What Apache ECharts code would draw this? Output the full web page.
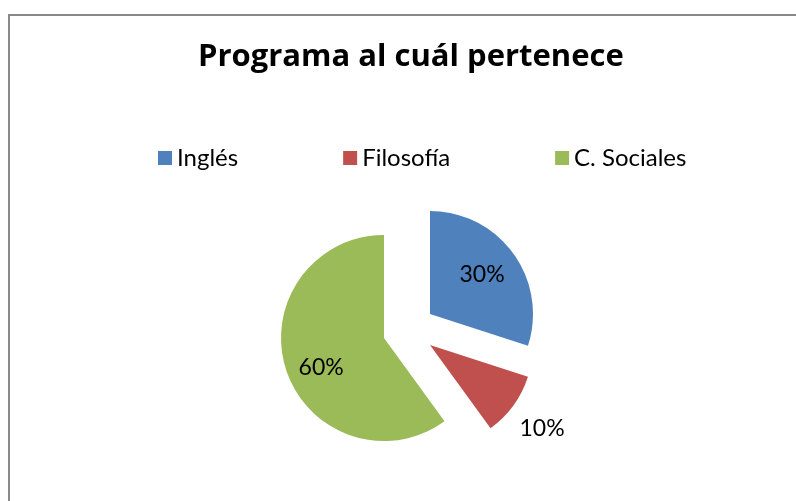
<!DOCTYPE html>
<html>
<head>
<meta charset="utf-8">
<title>Programa al cuál pertenece</title>
<script src="https://cdn.jsdelivr.net/npm/echarts@6/dist/echarts.min.js"></script>
<style>
	html, body { margin: 0; padding: 0; background: #fff; }
	#chart-programa { width: 796px; height: 501px; }
</style>
</head>
<body>
<div id="chart-programa"></div>
<script type="text/javascript">
	var programas = ['Inglés', 'Filosofía', 'C. Sociales'];
	var porcentajes = [30, 10, 60];
	var colores = ['#4F81BD', '#C0504D', '#9BBB59'];

	// every slice is pulled out by its own amount, so one pie per slice
	var centros = [[430, 314], [430, 345], [384, 338]];
	var ajustes = [[8, -7], [68, 52], [-11, 13]];

	var fuente = 'Lato, "Liberation Sans", sans-serif';

	function cada(arr, fn) { for (var i = 0; i < arr.length; i++) fn(i, arr[i]); }

	var series = [];
	cada(programas, function (k) {
		var data = [];
		cada(programas, function (i, nombre) {
			data.push({
				name: nombre,
				value: porcentajes[i],
				itemStyle: { color: i === k ? colores[i] : 'rgba(0,0,0,0)' },
				label: { show: i === k }
			});
		});
		series.push({
			type: 'pie',
			center: centros[k],
			radius: [0, 103],
			startAngle: 90,
			clockwise: true,
			avoidLabelOverlap: false,
			silent: true,
			label: {
				position: 'inside',
				formatter: '{d}%',
				color: '#000',
				fontFamily: fuente,
				fontSize: 23
			},
			labelLine: { show: false },
			labelLayout: function () {
				return { dx: ajustes[k][0], dy: ajustes[k][1] };
			},
			data: data
		});
	});

	var legendData = [];
	cada(programas, function (i, nombre) {
		legendData.push({ name: nombre, itemStyle: { color: colores[i], opacity: 1 } });
	});

	var option = {
		animation: false,
		backgroundColor: '#fff',
		title: {
			text: 'Programa al cuál pertenece',
			left: 198,
			top: 42,
			padding: 0,
			textStyle: {
				fontFamily: '"Open Sans", Lato, sans-serif',
				fontWeight: 'bold',
				fontSize: 31,
				color: '#000'
			}
		},
		legend: {
			data: legendData,
			left: 158,
			top: 146,
			padding: 0,
			icon: 'rect',
			itemWidth: 14,
			itemHeight: 14,
			itemGap: 105,
			selectedMode: false,
			textStyle: {
				fontFamily: fuente,
				fontSize: 24,
				color: '#000'
			}
		},
		graphic: [{
			type: 'rect',
			shape: { x: 9, y: 15, width: 820, height: 520 },
			style: { fill: 'none', stroke: '#898989', lineWidth: 2 },
			silent: true
		}],
		series: series
	};

	var myChart = echarts.init(document.getElementById('chart-programa'));
	myChart.setOption(option);
</script>
</body>
</html>
